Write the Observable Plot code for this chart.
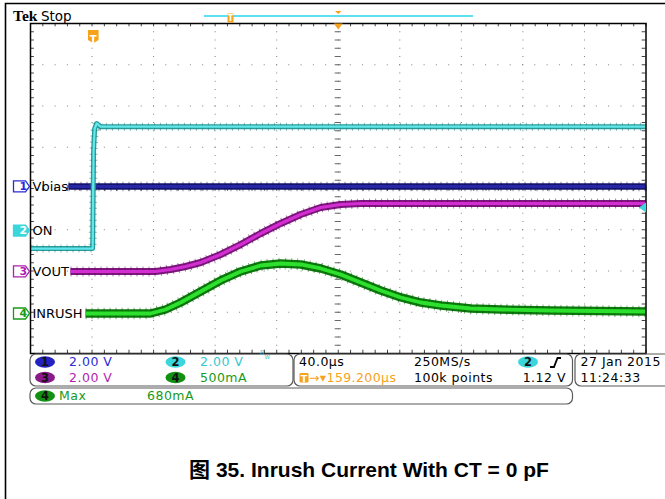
<!DOCTYPE html>
<html><head><meta charset="utf-8">
<script src="https://cdn.jsdelivr.net/npm/d3@7"></script>
<script src="https://cdn.jsdelivr.net/npm/@observablehq/plot@0.6"></script>
<style>body{margin:0;background:#fff} #chart svg{display:block}</style>
</head><body><div id="chart"></div>
<script>
// ---- data: time in µs from screen centre (40 µs/div), amplitude in screen divisions ----
const onTime      = [-200, -159.6, -159.0, -158.3, -157.0, -154.5, 200];
const onLevel     = [-1.455, -1.455, 0.92, 1.455, 1.576, 1.50, 1.50];
const vbiasTime   = [-175.3, 200];
const vbiasLevel  = [0.05, 0.05];
const voutTime    = [-174.0, -118.7, -108.9, -99.2, -89.4, -76.4, -63.4, -50.4, -37.4, -24.4, -11.4, 1.6, 14.6, 200];
const voutLevel   = [-2.012, -2.012, -1.964, -1.891, -1.794, -1.600, -1.358, -1.091, -0.848, -0.630, -0.461, -0.388, -0.364, -0.364];
const inrushTime  = [-164.2, -122.0, -112.2, -102.4, -89.4, -76.4, -63.4, -50.4, -37.4, -24.4, -11.4, 1.6, 14.6, 27.6, 40.7, 53.7, 66.7, 86.2, 105.7, 138.2, 200];
const inrushLevel = [-3.030, -3.030, -2.933, -2.764, -2.497, -2.230, -2.012, -1.867, -1.818, -1.842, -1.939, -2.085, -2.279, -2.473, -2.642, -2.764, -2.836, -2.909, -2.933, -2.958, -2.982];
const channelNames  = ["Vbias", "ON", "VOUT", "INRUSH"];
const channelNums   = ["1", "2", "3", "4"];
const groundLevels  = [0.05, -1.02, -2.01, -3.03];
const xGridTicks    = [-200, -160, -120, -80, -40, 0, 40, 80, 120, 160, 200];
const yGridTicks    = [-4, -3, -2, -1, 0, 1, 2, 3, 4];
const triggerTime   = -159.2;
const triggerLevel  = -0.46;
const scaleTexts    = ["2.00 V", "2.00 V", "2.00 V", "500mA"];
const timeTexts     = ["40.0µs", "250MS/s", "→▾159.200µs", "100k points", "1.12 V"];
const measureTexts  = ["Max", "680mA"];
const dateTexts     = ["27 Jan 2015", "11:24:33"];
const captionText   = "图 35. Inrush Current With CT = 0 pF";

const rows = (T, Y) => T.map((t, i) => ({t, v: Y[i]}));
const traces = [
  {data: rows(vbiasTime, vbiasLevel),   outer: "#15156e", inner: "#2626a6", spike: "#0a0a50", w: 6.5},
  {data: rows(onTime, onLevel),         outer: "#2a9c9c", inner: "#62e8ea", spike: "#1a7a7a", w: 5},
  {data: rows(voutTime, voutLevel),     outer: "#7e167e", inner: "#d22ed2", spike: "#5a0a5a", w: 7},
  {data: rows(inrushTime, inrushLevel), outer: "#0b780b", inner: "#2ee02e", spike: "#065606", w: 8.5}
];
const chColor  = ["#2b2bd8", "#33c8d0", "#b01fb0", "#189a18"];
const badgeCol = ["#2222c0", "#3ad6dc", "#8a1a8a", "#129012"];
const orange = "#f7a21b";

const minorX = d3.range(-200, 200.01, 8);
const minorY = d3.range(-4, 4.001, 0.2);

const tab = {draw(c) { c.moveTo(-5, -5.5); c.lineTo(7, -5.5); c.lineTo(11, 0); c.lineTo(7, 5.5); c.lineTo(-5, 5.5); c.closePath(); }};
const leftArrow = {draw(c) { c.moveTo(-4, 0); c.lineTo(3, -5); c.lineTo(3, 5); c.closePath(); }};
const downTri = {draw(c) { c.moveTo(-4.5, 0); c.lineTo(4.5, 0); c.lineTo(0, 6); c.closePath(); }};
const shield = {draw(c) { c.moveTo(-5.3, -6.5); c.lineTo(5.3, -6.5); c.lineTo(5.3, 3.5); c.lineTo(0, 6.8); c.lineTo(-5.3, 3.5); c.closePath(); }};

const marks = [
  Plot.ruleX(xGridTicks.slice(1, -1), {stroke: "#808080", strokeDasharray: "1,7.25"}),
  Plot.ruleY(yGridTicks.slice(1, -1), {stroke: "#808080", strokeDasharray: "1,11.3"}),
  Plot.ruleX(minorX, {x: d => d, y1: 4, y2: 3.92, stroke: "#444"}),
  Plot.ruleX(minorX, {x: d => d, y1: -4, y2: -3.92, stroke: "#444"}),
  Plot.ruleX(minorX, {x: d => d, y1: -0.07, y2: 0.07, stroke: "#666"}),
  Plot.ruleY(minorY, {y: d => d, x1: -200, x2: -197.5, stroke: "#444"}),
  Plot.ruleY(minorY, {y: d => d, x1: 197.5, x2: 200, stroke: "#444"}),
  Plot.ruleY(minorY, {y: d => d, x1: -2, x2: 2, stroke: "#666"})
];
for (const tr of traces) {
  const common = {x: "t", y: "v", clip: true, strokeLinecap: "butt", strokeLinejoin: "round"};
  marks.push(Plot.line(tr.data, {...common, stroke: tr.outer, strokeWidth: tr.w}));
  marks.push(Plot.line(tr.data, {...common, stroke: tr.spike, strokeWidth: tr.w + 3, strokeDasharray: "1,5", strokeOpacity: 0.5}));
  marks.push(Plot.line(tr.data, {...common, stroke: tr.inner, strokeWidth: tr.w * 0.45}));
}
marks.push(Plot.frame({stroke: "#000", strokeWidth: 1.5}));
channelNames.forEach((name, i) => {
  const d = [{level: groundLevels[i], num: channelNums[i], name}];
  const filled = i === 1;
  marks.push(Plot.dot(d, {frameAnchor: "left", y: "level", dx: -12, symbol: tab, r: 6,
    fill: filled ? badgeCol[1] : "white", stroke: filled ? badgeCol[1] : chColor[i], strokeWidth: 1.3}));
  marks.push(Plot.text(d, {frameAnchor: "left", y: "level", dx: -11, text: "num", fontSize: 11, fontWeight: "bold",
    fill: filled ? "white" : chColor[i]}));
  marks.push(Plot.text(d, {frameAnchor: "left", y: "level", dx: 2, text: "name", textAnchor: "start", fontSize: 13, fill: "#000"}));
});
marks.push(Plot.dot([triggerLevel], {frameAnchor: "right", y: d => d, dx: -3, symbol: leftArrow, r: 5, fill: "#3ad6dc", stroke: "none"}));
marks.push(Plot.dot([0], {x: d => d, frameAnchor: "top", dy: 0, symbol: downTri, r: 5, fill: orange, stroke: "none"}));
marks.push(Plot.dot([triggerTime], {x: d => d, frameAnchor: "top", dy: 13, symbol: shield, r: 6, fill: orange, stroke: "none"}));
marks.push(Plot.text([triggerTime], {x: d => d, frameAnchor: "top", dy: 12, text: () => "T", fill: "white", fontSize: 10, fontWeight: "bold"}));

const chart = Plot.plot({
  width: 665, height: 499,
  marginLeft: 30, marginRight: 19.5, marginTop: 23, marginBottom: 146,
  x: {domain: [-200, 200], axis: null},
  y: {domain: [-4, 4], axis: null},
  style: {fontFamily: "DejaVu Sans, sans-serif", fontSize: "12px", background: "white", overflow: "visible"},
  marks
});
document.getElementById("chart").appendChild(chart);

// ---- screen decorations (status bar, info boxes, caption) ----
const svg = d3.select(chart);
const g = svg.append("g").attr("font-family", "DejaVu Sans, sans-serif");
function txt(x, y, s, o = {}) {
  return g.append("text").attr("x", x).attr("y", y).attr("xml:space", "preserve").text(s)
    .attr("fill", o.fill || "#000").attr("font-size", o.size || 12.5)
    .attr("letter-spacing", o.ls == null ? 0.5 : o.ls)
    .attr("text-anchor", o.anchor || "start").attr("font-weight", o.weight || "normal")
    .attr("font-family", o.family || null);
}
function box(x, y, w, h) {
  g.append("rect").attr("x", x).attr("y", y).attr("width", w).attr("height", h).attr("rx", 6)
    .attr("fill", "none").attr("stroke", "#5a5a5a").attr("stroke-width", 1.2);
}
function badge(cx, cy, num, col) {
  g.append("ellipse").attr("cx", cx).attr("cy", cy).attr("rx", 10).attr("ry", 5.8).attr("fill", col);
  txt(cx, cy + 4, num, {anchor: "middle", size: 11.5, weight: "bold", ls: 0, fill: "#111"});
}
// outer border
g.append("path").attr("d", "M5.5,499 V3.5 H665").attr("fill", "none").attr("stroke", "#000").attr("stroke-width", 1.6);
// Tek Stop
txt(13, 21, "Tek", {size: 15.5, weight: "bold", family: "Liberation Serif, serif", ls: 0});
txt(41, 21, "Stop", {size: 13.5, ls: 0});
// record view bar
g.append("line").attr("x1", 204).attr("x2", 473).attr("y1", 16).attr("y2", 16).attr("stroke", "#5fe0f0").attr("stroke-width", 2);
g.append("rect").attr("x", 227.5).attr("y", 13.5).attr("width", 6).attr("height", 9).attr("fill", orange);
txt(230.5, 21, "T", {anchor: "middle", size: 8, fill: "#fff", weight: "bold", ls: 0});
g.append("path").attr("d", "M335,11 H341.5 L338.25,14 Z").attr("fill", orange);

// box 1: channel scales
box(30, 354, 263, 32);
badge(45, 362, "1", badgeCol[0]); txt(69, 366, scaleTexts[0], {fill: chColor[0]});
badge(45, 377.5, "3", badgeCol[2]); txt(69, 382, scaleTexts[2], {fill: chColor[2]});
badge(175.5, 362, "2", badgeCol[1]); txt(200, 366, scaleTexts[1], {fill: chColor[1]});
badge(175.5, 377.5, "4", badgeCol[3]); txt(200, 382, scaleTexts[3], {fill: chColor[3]});
txt(260, 355, "B", {size: 6.5, fill: chColor[1], ls: 0});
txt(264.5, 358.5, "W", {size: 5.5, fill: chColor[1], ls: 0});
// box 2: timebase / trigger
box(294, 354, 278.5, 32);
txt(299, 366, timeTexts[0]);
txt(414, 366, timeTexts[1]);
badge(528, 362, "2", badgeCol[1]);
g.append("path").attr("d", "M550,367 H554 L557.5,358 H561").attr("fill", "none").attr("stroke", "#000").attr("stroke-width", 1.8);
g.append("rect").attr("x", 299.5).attr("y", 373).attr("width", 9).attr("height", 9.5).attr("rx", 1).attr("fill", orange);
txt(304, 381.5, "T", {anchor: "middle", size: 9.5, fill: "#fff", weight: "bold", ls: 0});
txt(309, 382, timeTexts[2], {fill: orange, ls: 0.4});
txt(414, 382, timeTexts[3]);
txt(566, 382, timeTexts[4], {anchor: "end"});
// box 3: date
box(575, 354, 100, 32);
txt(580.5, 366, dateTexts[0]);
txt(580.5, 382, dateTexts[1]);
// measurement row
box(30, 388, 542.5, 16);
badge(45, 396, "4", badgeCol[3]);
txt(59, 400, measureTexts[0], {fill: chColor[3]});
txt(147, 400, measureTexts[1], {fill: chColor[3]});
// caption
txt(369, 477, captionText, {anchor: "middle", size: 21, weight: "bold", ls: 0, family: "Liberation Sans, Noto Sans CJK SC, sans-serif"});
</script>
</body></html>
